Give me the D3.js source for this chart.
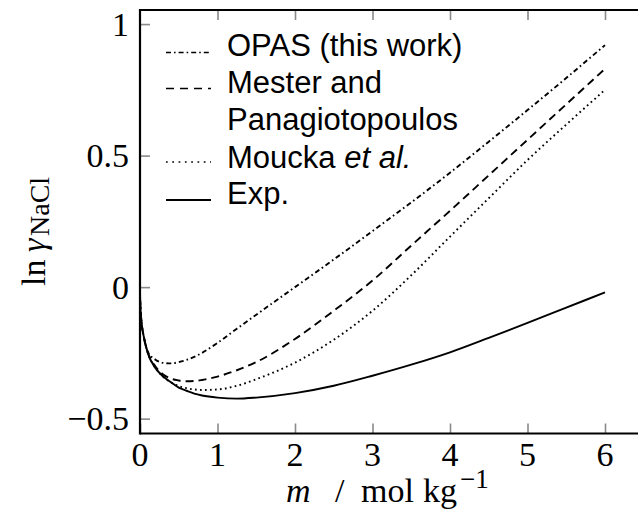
<!DOCTYPE html>
<html>
<head>
<meta charset="utf-8">
<script src="https://cdn.jsdelivr.net/npm/d3@7"></script>
<style>
  html, body { margin: 0; padding: 0; background: #fff; }
  svg { display: block; }
</style>
</head>
<body>
<svg id="chart" width="638" height="511"></svg>
<script>
// Molality grid (mol/kg) shared by all series
const molality = [0, 0.001, 0.005, 0.01, 0.02, 0.05, 0.1, 0.2, 0.3, 0.4, 0.5, 0.6, 0.7, 0.8,
                  1.0, 1.25, 1.5, 2.0, 2.5, 3.0, 3.5, 4.0, 4.5, 5.0, 5.5, 6.0];

// ln gamma of NaCl for each data set
const opas   = [0, -0.035, -0.075, -0.1, -0.135, -0.19, -0.245, -0.276, -0.288, -0.29, -0.285, -0.277, -0.265, -0.25,
                -0.212, -0.158, -0.105, 0.0, 0.105, 0.213, 0.322, 0.435, 0.553, 0.673, 0.795, 0.92];
const mester = [0, -0.035, -0.075, -0.1, -0.135, -0.19, -0.247, -0.302, -0.332, -0.348, -0.355, -0.358, -0.357, -0.353,
                -0.34, -0.316, -0.285, -0.197, -0.09, 0.025, 0.158, 0.29, 0.425, 0.56, 0.695, 0.83];
const moucka = [0, -0.035, -0.075, -0.1, -0.135, -0.19, -0.249, -0.306, -0.341, -0.362, -0.376, -0.384, -0.389, -0.391,
                -0.389, -0.375, -0.35, -0.287, -0.2, -0.09, 0.045, 0.192, 0.338, 0.483, 0.618, 0.75];
const expt   = [0, -0.036, -0.075, -0.1, -0.135, -0.19, -0.25, -0.308, -0.34, -0.362, -0.382, -0.394, -0.405, -0.412,
                -0.42, -0.424, -0.42, -0.403, -0.375, -0.337, -0.295, -0.248, -0.193, -0.136, -0.078, -0.02];

const xTicks = [0, 1, 2, 3, 4, 5, 6];
const yTicks = [-0.5, 0, 0.5, 1];
const yTickLabels = ["\u22120.5", "0", "0.5", "1"];

const svg = d3.select("#chart");
svg.append("rect").attr("width", 638).attr("height", 511).attr("fill", "#fff");

const plot = { left: 140, right: 643.75, top: 10, bottom: 433.5 };
const x = d3.scaleLinear().domain([0, 6.5]).range([plot.left, plot.right]);
const y = d3.scaleLinear().domain([-0.5565, 1.0535]).range([plot.bottom, plot.top]);

const serif = "'Liberation Serif', 'Times New Roman', serif";
const sans = "'Liberation Sans', Arial, sans-serif";

// curves
const styles = [
  { data: opas,   dash: "5,3,1.6,3" },
  { data: mester, dash: "8,5" },
  { data: moucka, dash: "1.7,3.3" },
  { data: expt,   dash: null }
];

const line = d3.line()
  .x(d => x(d[0]))
  .y(d => y(d[1]))
  .curve(d3.curveMonotoneX);

const curves = svg.append("g");
styles.forEach(s => {
  curves.append("path")
    .datum(molality.map((m, i) => [m, s.data[i]]))
    .attr("d", line)
    .attr("fill", "none")
    .attr("stroke", "#000")
    .attr("stroke-width", 1.9)
    .attr("stroke-dasharray", s.dash);
});

// inward grey ticks on bottom, top and left
const tickLen = 10;
const bottomAxis = d3.axisBottom(x).tickValues(xTicks).tickSize(-tickLen).tickFormat("");
const topAxis = d3.axisTop(x).tickValues(xTicks.filter(v => v > 0)).tickSize(-tickLen).tickFormat("");
const leftAxis = d3.axisLeft(y).tickValues(yTicks).tickSize(-tickLen).tickFormat("");

function styleAxis(g) {
  g.select(".domain").remove();
  g.selectAll(".tick line").attr("stroke", "#8a8a8a").attr("stroke-width", 1.6);
}
svg.append("g").attr("transform", `translate(0,${plot.bottom})`).call(bottomAxis).call(styleAxis);
svg.append("g").attr("transform", `translate(0,${plot.top})`).call(topAxis).call(styleAxis);
svg.append("g").attr("transform", `translate(${plot.left},0)`).call(leftAxis).call(styleAxis);

// frame
const frame = svg.append("g").attr("stroke", "#000").attr("stroke-width", 2.2).attr("fill", "none");
frame.append("line").attr("x1", plot.left).attr("x2", 640).attr("y1", plot.bottom).attr("y2", plot.bottom);
frame.append("line").attr("x1", plot.left).attr("x2", 640).attr("y1", plot.top).attr("y2", plot.top);
frame.append("line").attr("x1", plot.left).attr("x2", plot.left).attr("y1", plot.top - 1.1).attr("y2", plot.bottom + 1.1);

// tick labels
svg.append("g").selectAll("text").data(xTicks).join("text")
  .attr("x", d => x(d)).attr("y", 466)
  .attr("text-anchor", "middle")
  .attr("font-family", serif).attr("font-size", 34)
  .text(d => d);

svg.append("g").selectAll("text").data(yTicks).join("text")
  .attr("x", 129).attr("y", d => y(d) + 11.5)
  .attr("text-anchor", "end")
  .attr("font-family", serif).attr("font-size", 34)
  .text((d, i) => yTickLabels[i]);

// x axis title
const xl = svg.append("text").attr("y", 502).attr("font-family", serif).attr("font-size", 34);
xl.append("tspan").attr("x", 286).attr("font-style", "italic").text("m");
xl.append("tspan").attr("x", 335).text("/");
xl.append("tspan").attr("x", 361).text("mol");
xl.append("tspan").attr("x", 423).text("kg");
xl.append("tspan").attr("dx", 3).attr("dy", -14).attr("font-size", 27).text("\u22121");

// y axis title
const yl = svg.append("text")
  .attr("transform", "translate(45,0) rotate(-90)")
  .attr("font-family", serif).attr("font-size", 34);
yl.append("tspan").attr("x", -286).text("ln");
yl.append("tspan").attr("x", -252).attr("font-style", "italic").text("\u03b3");
yl.append("tspan").attr("x", -236).attr("dy", 4).attr("font-size", 28).text("NaCl");

// legend
const legend = svg.append("g");
const legendRows = [
  { dash: "5,3,1.6,3", ly: 52.5, texts: [{ t: "OPAS (this work)", y: 56 }] },
  { dash: "8,6", ly: 88.5, texts: [{ t: "Mester and", y: 93 }, { t: "Panagiotopoulos", y: 130 }] },
  { dash: "1.7,4.6", ly: 162, texts: [{ t: "Moucka ", y: 168, italic: "et al." }] },
  { dash: null, ly: 200, texts: [{ t: "Exp.", y: 204 }] }
];
legendRows.forEach(r => {
  legend.append("line")
    .attr("x1", 166).attr("x2", 211).attr("y1", r.ly).attr("y2", r.ly)
    .attr("stroke", "#000").attr("stroke-width", r.dash ? 1.3 : 1.8)
    .attr("stroke-dasharray", r.dash);
  r.texts.forEach(tx => {
    const t = legend.append("text")
      .attr("x", 227).attr("y", tx.y)
      .attr("font-family", sans).attr("font-size", 31);
    t.append("tspan").text(tx.t);
    if (tx.italic) t.append("tspan").attr("font-style", "italic").text(tx.italic);
  });
});
</script>
</body>
</html>
